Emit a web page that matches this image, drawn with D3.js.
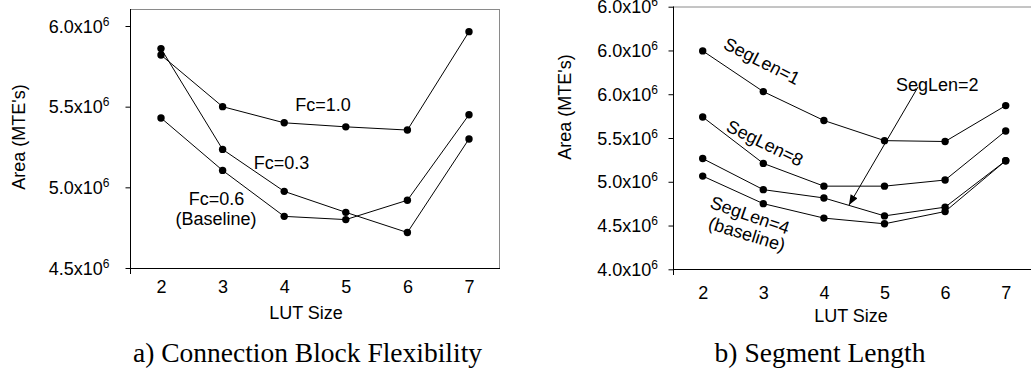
<!DOCTYPE html>
<html>
<head>
<meta charset="utf-8">
<script src="https://cdn.jsdelivr.net/npm/d3@7"></script>
<style>
  body { margin: 0; background: #fff; }
  svg { display: block; }
  text { font-family: "Liberation Sans", Arial, sans-serif; fill: #000; }
  .caption { font-family: "Liberation Serif", "Times New Roman", serif; }
</style>
</head>
<body>
<script>
// LUT sizes (x axis of both panels)
const lutSizes = [2, 3, 4, 5, 6, 7];

// a) connection block flexibility, area in 10^6 MTE's
const fc10 = [5.82, 5.50, 5.40, 5.375, 5.355, 5.965];
const fc03 = [5.86, 5.235, 4.975, 4.845, 4.72, 5.30];
const fc06 = [5.43, 5.105, 4.82, 4.80, 4.92, 5.45];
const leftTicks = [4.5, 5.0, 5.5, 6.0];
const leftTickLabels = ["4.5", "5.0", "5.5", "6.0"];

// b) segment length, area in 10^6 MTE's
const seg1 = [6.495, 6.03, 5.70, 5.47, 5.46, 5.87];
const seg8 = [5.74, 5.21, 4.95, 4.95, 5.02, 5.58];
const seg2 = [5.265, 4.91, 4.815, 4.61, 4.71, 5.24];
const seg4 = [5.065, 4.75, 4.585, 4.52, 4.66, 5.24];
const rightTicks = [4.0, 4.5, 5.0, 5.5, 6.0, 6.5, 7.0];
// labels as printed in the original figure
const rightTickLabels = ["4.0", "4.5", "5.0", "5.5", "6.0", "6.0", "6.0"];

const svg = d3.select("body").append("svg")
  .attr("width", 1031)
  .attr("height", 373);

/**
 * draw one panel: frame, axes, lines with dots
 */
function drawPanel(p) {
  const g = svg.append("g");

  const x = d3.scaleLinear().domain([2, 7]).range([p.x0, p.x1]);
  const y = d3.scaleLinear().domain(p.yDomain).range(p.yRange);

  // frame (gray top / right)
  g.append("line")
    .attr("x1", p.left).attr("x2", p.right)
    .attr("y1", p.top + 0.5).attr("y2", p.top + 0.5)
    .attr("stroke", "#8a8a8a");
  if (p.rightBorder) {
    g.append("line")
      .attr("x1", p.right - 0.5).attr("x2", p.right - 0.5)
      .attr("y1", p.top).attr("y2", p.bottom)
      .attr("stroke", "#8a8a8a");
  }

  // y axis
  const yAxis = d3.axisLeft(y)
    .tickValues(p.ticks)
    .tickSize(5)
    .tickSizeOuter(0)
    .tickFormat(function(d, i) { return p.tickLabels[i]; });

  const ya = g.append("g")
    .attr("transform", "translate(" + (p.left + 0.5) + ",0)")
    .call(yAxis);
  ya.select(".domain").remove();
  ya.selectAll(".tick line").attr("stroke", "#000");
  ya.selectAll(".tick text")
    .attr("x", -(p.left - p.labelRight))
    .attr("dy", "0.34em")
    .style("font-size", "18px")
    .style("font-family", "Liberation Sans, Arial, sans-serif")
    .each(function(d, i) {
      const t = d3.select(this);
      t.text(null);
      t.append("tspan").text(p.tickLabels[i] + "x10");
      t.append("tspan")
        .attr("dy", "-7")
        .style("font-size", "12px")
        .text("6");
    });

  // axis lines
  g.append("line")
    .attr("x1", p.left + 0.5).attr("x2", p.left + 0.5)
    .attr("y1", p.top).attr("y2", p.bottom + 6)
    .attr("stroke", "#000");
  g.append("line")
    .attr("x1", p.left).attr("x2", p.right)
    .attr("y1", p.bottom + 0.5).attr("y2", p.bottom + 0.5)
    .attr("stroke", "#000");

  // x axis labels
  const xAxis = d3.axisBottom(x)
    .tickValues(lutSizes)
    .tickSize(0)
    .tickPadding(p.xPad)
    .tickFormat(d3.format("d"));
  const xa = g.append("g")
    .attr("transform", "translate(0," + p.bottom + ")")
    .call(xAxis);
  xa.select(".domain").remove();
  xa.selectAll(".tick text")
    .style("font-size", "18px")
    .style("font-family", "Liberation Sans, Arial, sans-serif");

  // axis titles
  g.append("text")
    .attr("x", p.xTitle[0]).attr("y", p.xTitle[1])
    .attr("text-anchor", "middle")
    .style("font-size", "18px")
    .text("LUT Size");
  g.append("text")
    .attr("transform", "translate(" + p.yTitle[0] + "," + p.yTitle[1] + ") rotate(-90)")
    .attr("text-anchor", "middle")
    .attr("dy", "0.35em")
    .style("font-size", "18px")
    .text("Area (MTE's)");

  // series
  const line = d3.line()
    .x(function(d, i) { return x(lutSizes[i]); })
    .y(function(d) { return y(d); });

  p.series.forEach(function(s) {
    g.append("path")
      .datum(s)
      .attr("d", line)
      .attr("fill", "none")
      .attr("stroke", "#000")
      .attr("stroke-width", 1);
    g.selectAll(null)
      .data(s)
      .enter()
      .append("circle")
      .attr("cx", function(d, i) { return x(lutSizes[i]); })
      .attr("cy", function(d) { return y(d); })
      .attr("r", 3.7)
      .attr("fill", "#000");
  });

  // caption
  g.append("text")
    .attr("class", "caption")
    .attr("x", p.caption[0]).attr("y", 361.5)
    .attr("text-anchor", "middle")
    .style("font-size", "27.5px")
    .text(p.caption[1]);

  return g;
}

const gA = drawPanel({
  left: 130, right: 500, top: 9, bottom: 268,
  x0: 161, x1: 469,
  yDomain: [4.5, 6.0], yRange: [268, 26],
  ticks: leftTicks, tickLabels: leftTickLabels,
  labelRight: 109, xPad: 12,
  rightBorder: true,
  xTitle: [306, 318.5], yTitle: [19, 137],
  series: [fc10, fc03, fc06],
  caption: [307.5, "a) Connection Block Flexibility"]
});

const gB = drawPanel({
  left: 673, right: 1031, top: 6.5, bottom: 269,
  x0: 702.7, x1: 1005.7,
  yDomain: [4.0, 7.0], yRange: [269.3, 6.7],
  ticks: rightTicks, tickLabels: rightTickLabels,
  labelRight: 657.5, xPad: 17,
  rightBorder: false,
  xTitle: [851, 321.5], yTitle: [565, 107],
  series: [seg1, seg8, seg2, seg4],
  caption: [820, "b) Segment Length"]
});

// series annotations, panel a
const labA = [
  { t: "Fc=1.0", x: 323, y: 110.5 },
  { t: "Fc=0.3", x: 281.5, y: 169 },
  { t: "Fc=0.6", x: 216.5, y: 205 },
  { t: "(Baseline)", x: 216, y: 224.5 }
];
gA.selectAll(null).data(labA).enter().append("text")
  .attr("x", function(d) { return d.x; })
  .attr("y", function(d) { return d.y; })
  .attr("text-anchor", "middle")
  .style("font-size", "18px")
  .text(function(d) { return d.t; });

// series annotations, panel b (rotated)
const labB = [
  { t: "SegLen=1", x: 762, y: 61, a: 27 },
  { t: "SegLen=8", x: 765, y: 143, a: 26 },
  { t: "SegLen=4", x: 750, y: 215, a: 19 },
  { t: "(baseline)", x: 747, y: 234, a: 17 }
];
gB.selectAll(null).data(labB).enter().append("text")
  .attr("transform", function(d) { return "translate(" + d.x + "," + d.y + ") rotate(" + d.a + ")"; })
  .attr("text-anchor", "middle")
  .attr("dy", "0.35em")
  .style("font-size", "18px")
  .text(function(d) { return d.t; });

gB.append("text")
  .attr("x", 896).attr("y", 90.5)
  .style("font-size", "18px")
  .text("SegLen=2");

// arrow to SegLen=2
svg.append("defs").append("marker")
  .attr("id", "arrow")
  .attr("viewBox", "0 0 10 8")
  .attr("refX", 10).attr("refY", 4)
  .attr("markerWidth", 11).attr("markerHeight", 8)
  .attr("markerUnits", "userSpaceOnUse")
  .attr("orient", "auto")
  .append("path")
  .attr("d", "M0,0 L10,4 L0,8 Z")
  .attr("fill", "#000");

gB.append("line")
  .attr("x1", 918).attr("y1", 87)
  .attr("x2", 849).attr("y2", 205)
  .attr("stroke", "#000")
  .attr("stroke-width", 1)
  .attr("marker-end", "url(#arrow)");
</script>
</body>
</html>
